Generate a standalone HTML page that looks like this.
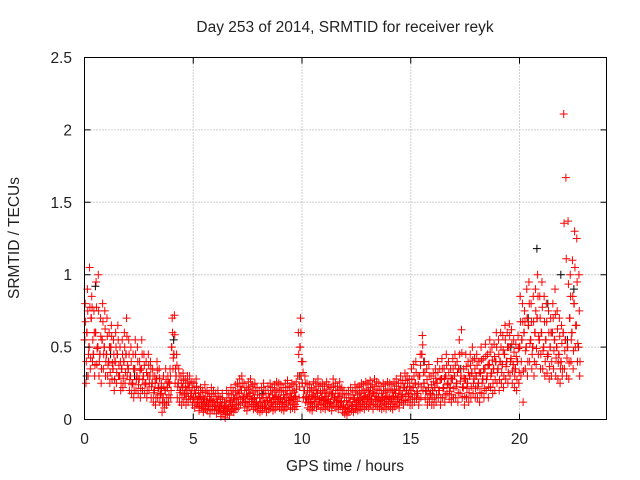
<!DOCTYPE html>
<html><head><meta charset="utf-8"><style>
body{margin:0;background:#fff;}
svg{display:block;font-family:"Liberation Sans","DejaVu Sans",sans-serif;}
</style></head><body>
<svg id="chart" width="640" height="480" viewBox="0 0 640 480">
<rect width="640" height="480" fill="#fff"/>
<text x="345" y="32" text-anchor="middle" font-size="15.5" fill="#222">Day 253 of 2014, SRMTID for receiver reyk</text>
<text x="0" y="0" transform="translate(19,238) rotate(-90)" text-anchor="middle" font-size="15.5" fill="#222">SRMTID / TECUs</text>
<text x="345" y="471" text-anchor="middle" font-size="15.5" fill="#222">GPS time / hours</text>
<g id="grid"></g>
<g id="blackpts"></g>
<g id="redpts"></g>
<rect x="84.5" y="57.5" width="522" height="362" fill="none" stroke="#000" stroke-width="1"/>
<g id="ticks"></g>
</svg>
<script>
const xTicks=[0,5,10,15,20];
const yTicks=[0,0.5,1,1.5,2,2.5];
const yTickLabels=["0","0.5","1","1.5","2","2.5"];
const startHour=0, hourStep=0.1;
const midVals=[.55,.6,.5,.7,.45,.6,.5,.45,.55,.5,
.45,.4,.5,.35,.4,.45,.3,.35,.4,.45,
.35,.3,.25,.35,.3,.28,.35,.3,.25,.3,
.3,.25,.2,.28,.22,.18,.15,.2,.22,.25,
.5,.45,.3,.25,.2,.22,.18,.2,.22,.18,
.15,.18,.12,.15,.1,.14,.12,.1,.13,.12,
.1,.12,.08,.1,.06,.1,.08,.12,.1,.14,
.15,.18,.2,.15,.12,.16,.18,.14,.15,.12,
.1,.12,.15,.1,.13,.15,.12,.14,.16,.15,
.14,.12,.15,.17,.13,.15,.14,.16,.3,.5,
.25,.2,.15,.14,.12,.16,.15,.18,.14,.15,
.13,.16,.14,.12,.18,.15,.13,.16,.12,.1,
.08,.1,.12,.1,.14,.12,.13,.15,.14,.16,
.15,.17,.14,.18,.16,.15,.13,.15,.14,.16,
.15,.14,.16,.18,.15,.2,.17,.22,.2,.18,
.2,.22,.25,.18,.3,.45,.25,.2,.22,.18,
.2,.22,.25,.2,.28,.22,.3,.25,.22,.28,
.3,.25,.35,.3,.22,.28,.25,.3,.32,.28,
.3,.25,.32,.28,.35,.3,.38,.32,.35,.4,
.35,.4,.38,.45,.4,.5,.42,.38,.35,.4,
.5,.55,.6,.5,.65,.55,.5,.6,.7,.55,
.6,.5,.55,.45,.5,.6,.55,.5,.45,.4,
.6,.55,.5,.7,.6,.8,.65,.5];
const highVals=[.8,.9,1.05,.85,.75,.95,1.0,.7,.8,.75,
.7,.6,.65,.55,.6,.65,.5,.55,.6,.7,
.55,.5,.45,.55,.5,.4,.55,.45,.4,.45,
.4,.35,.3,.4,.35,.25,.3,.35,.3,.35,
.7,.72,.45,.35,.3,.32,.28,.3,.3,.26,
.25,.28,.2,.22,.2,.24,.2,.18,.22,.2,
.18,.2,.15,.18,.12,.2,.18,.22,.2,.24,
.25,.28,.3,.25,.22,.26,.28,.24,.25,.22,
.2,.22,.25,.2,.23,.25,.22,.24,.26,.25,
.24,.22,.25,.27,.23,.25,.24,.26,.6,.7,
.4,.3,.25,.24,.22,.26,.25,.28,.24,.25,
.23,.26,.24,.22,.28,.25,.23,.26,.22,.2,
.18,.2,.22,.2,.24,.22,.23,.25,.24,.26,
.25,.27,.24,.28,.26,.25,.23,.25,.24,.26,
.25,.24,.26,.28,.25,.3,.27,.32,.3,.28,
.35,.38,.4,.3,.45,.58,.4,.35,.38,.3,
.32,.35,.4,.35,.42,.35,.45,.4,.35,.42,
.45,.4,.55,.62,.35,.45,.4,.45,.5,.42,
.45,.4,.5,.42,.52,.45,.55,.5,.52,.6,
.55,.6,.58,.65,.6,.66,.62,.55,.52,.58,
.85,.8,.75,.9,.95,.8,.85,.9,1.0,.85,
.95,.85,.8,.75,.7,.8,.9,.75,.7,.65,
2.11,1.67,1.37,1.0,1.1,1.3,1.25,1.0];
const lowVals=[.25,.3,.35,.4,.3,.38,.3,.25,.35,.3,
.3,.25,.28,.2,.25,.3,.2,.22,.25,.3,
.2,.18,.15,.2,.18,.15,.2,.18,.15,.2,
.15,.12,.1,.15,.12,.05,.08,.1,.12,.15,
.35,.25,.15,.12,.1,.12,.1,.12,.14,.1,
.08,.1,.06,.08,.05,.07,.06,.04,.07,.06,
.04,.06,.02,.05,.01,.04,.03,.06,.05,.07,
.08,.1,.12,.08,.06,.09,.1,.07,.08,.06,
.05,.06,.08,.05,.07,.08,.06,.07,.09,.08,
.07,.06,.08,.1,.07,.08,.07,.09,.15,.3,
.15,.12,.08,.07,.06,.09,.08,.1,.07,.08,
.07,.09,.08,.06,.1,.08,.07,.09,.05,.04,
.03,.05,.06,.05,.07,.06,.07,.08,.07,.09,
.08,.1,.07,.1,.09,.08,.07,.08,.07,.09,
.08,.07,.09,.1,.08,.12,.1,.13,.12,.1,
.1,.12,.14,.1,.15,.2,.14,.1,.12,.1,
.1,.12,.15,.1,.15,.12,.18,.14,.12,.15,
.15,.12,.18,.15,.1,.15,.12,.15,.18,.15,
.15,.12,.18,.15,.2,.15,.22,.18,.2,.25,
.2,.25,.22,.28,.25,.3,.25,.22,.2,.25,
.3,.12,.35,.3,.4,.35,.3,.38,.45,.35,
.35,.3,.32,.28,.3,.35,.3,.28,.25,.3,
.35,.3,.28,.4,.35,.5,.4,.3];
const blackHours=[0.1,0.5,1.2,2.3,4.1,5.5,8.2,9.9,12.5,15.6,17.3,19.6,20.4,20.8,21.3,21.9,22.2,22.5];
const blackVals=[0.3,0.92,0.45,0.3,0.55,0.12,0.18,0.3,0.1,0.4,0.35,0.5,0.7,1.18,0.8,1.0,0.55,0.9];
const hours=midVals.map((_,i)=>startHour+i*hourStep);

const X0=84.5,X1=606.5,Y0=419.5,Y1=57.5;
const xs=h=>X0+(h/24)*(X1-X0);
const ys=v=>Y0-(v/2.5)*(Y0-Y1);
const NS="http://www.w3.org/2000/svg";
function mk(tag,attrs,parent){const e=document.createElementNS(NS,tag);for(const k in attrs)e.setAttribute(k,attrs[k]);parent.appendChild(e);return e;}
const grid=document.getElementById('grid'),ticks=document.getElementById('ticks');
xTicks.forEach((t,i)=>{
  const x=xs(t);
  if(t>0){const g=mk('line',{x1:x,y1:Y1,x2:x,y2:Y0,stroke:'#a0a0a0','stroke-dasharray':'1,2'},grid);
  
  }
  const tk=mk('path',{d:`M${x},${Y0}v-6M${x},${Y1}v6`,stroke:'#000'},ticks);
  
  
  const l=mk('text',{x:x,y:444,'text-anchor':'middle','font-size':15.5,fill:'#222'},ticks);
  l.textContent=String(t);
  
  
});
yTicks.forEach((t,i)=>{
  const y=ys(t);
  if(t>0&&t<2.5){const g=mk('line',{x1:X0,y1:y,x2:X1,y2:y,stroke:'#a0a0a0','stroke-dasharray':'1,2'},grid);
  
  }
  const tk=mk('path',{d:`M${X0},${y}h6M${X1},${y}h-6`,stroke:'#000'},ticks);
  
  
  const l=mk('text',{x:72,y:y+5.5,'text-anchor':'end','font-size':15.5,fill:'#222'},ticks);
  l.textContent=yTickLabels[i];
  
  
});
function plus(g,h,v,color,name){
  const x=xs(h),y=ys(v);
  const p=mk('path',{d:`M${x-4},${y}h8M${x},${y-4}v8`,stroke:color,'stroke-width':1},g);
  
  
}
const bg=document.getElementById('blackpts'),rg=document.getElementById('redpts');
blackHours.forEach((h,i)=>plus(bg,h,blackVals[i],'#000','black-point'));
const offs=[0,0.033,0.066];
[midVals,highVals,lowVals].forEach((arr,s)=>{
  arr.forEach((v,i)=>{plus(rg,hours[i]+offs[s],v,'#ff0000','red-point');
    const v2=(v+midVals[i])/2;plus(rg,hours[i]+offs[s]+0.016,v2,'#ff0000','red-point');});
});
</script>
</body></html>
